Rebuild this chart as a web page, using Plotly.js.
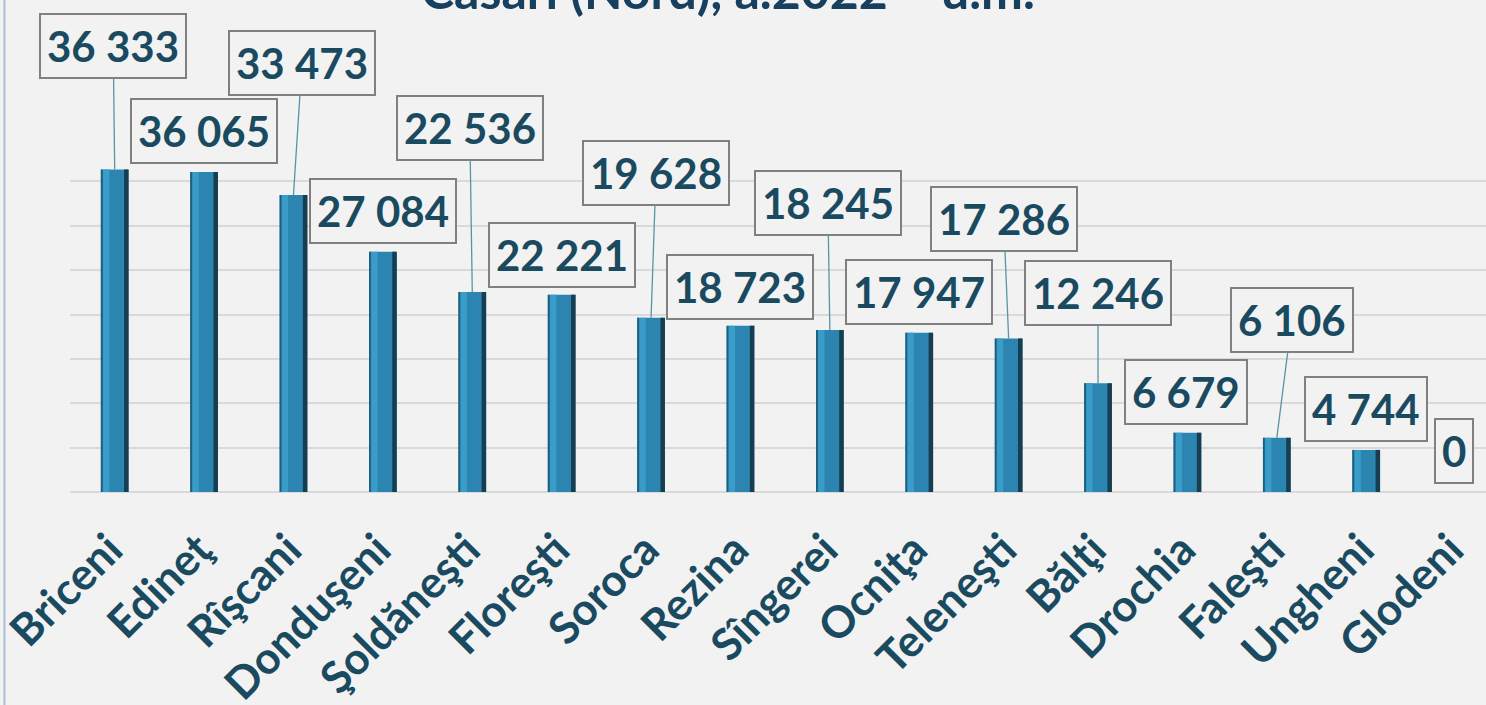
<!DOCTYPE html>
<html>
<head>
<meta charset="utf-8">
<script src="https://cdn.plot.ly/plotly-3.0.1.min.js"></script>
<style>
  html, body { margin: 0; padding: 0; background: #f2f2f2; }
  #chart { width: 1486px; height: 705px; }
</style>
</head>
<body>
<div id="chart"></div>
<script>
// ---- Data ----
const districts = ["Briceni", "Edineţ", "Rîşcani", "Donduşeni", "Şoldăneşti", "Floreşti", "Soroca", "Rezina",
                   "Sîngerei", "Ocniţa", "Teleneşti", "Bălţi", "Drochia", "Faleşti", "Ungheni", "Glodeni"];
const casari = [36333, 36065, 33473, 27084, 22536, 22221, 19628, 18723,
                18245, 17947, 17286, 12246, 6679, 6106, 4744, 0];
const chartTitle = "Casări (Nord), a.2022 – u.m.";

// ---- Label placement (pixel offsets of the label box from the bar top) ----
const labelDx = [-1.5, 0, 8.5, 0, -2.5, 0, 5, 0, -2, 0, -5, 0, -1.5, 15, 0, -1.5];
const labelDy = [-124, -41, -132, -41, -164, -40, -145, -39, -127, -41, -120, -90, -41, -118, -41, -41];
const hasLeader = [true, false, true, false, true, false, true, false, true, false, true, true, false, true, false, false];

const textColor = "#1a4a60";
const fontFam = "Lato, 'Open Sans', sans-serif";

function fmt(v) { return String(v).replace(/\B(?=(\d{3})+(?!\d))/g, " "); }

const barW = 0.31;
const traces = [
  { type: "bar", x: districts, y: casari, width: barW,
    marker: { color: "#2c85b0", line: { width: 0 } }, hoverinfo: "x+y" },
  { type: "bar", x: districts, y: casari, width: 0.02, offset: -0.155,
    marker: { color: "#1f5f7d", line: { width: 0 } }, hoverinfo: "skip" },
  { type: "bar", x: districts, y: casari, width: 0.07, offset: -0.13,
    marker: { color: "#3a9cc9", line: { width: 0 } }, hoverinfo: "skip" },
  { type: "bar", x: districts, y: casari, width: 0.05, offset: 0.105,
    marker: { color: "#163d50", line: { width: 0 } }, hoverinfo: "skip" }
];

const annotations = districts.map((d, i) => ({
  x: d, y: casari[i], xref: "x", yref: "y",
  text: fmt(casari[i]),
  showarrow: true, arrowhead: 0, arrowwidth: 1.3, standoff: 0,
  arrowcolor: hasLeader[i] ? "#5a93a6" : "rgba(0,0,0,0)",
  ax: labelDx[i], ay: labelDy[i],
  font: { family: fontFam, size: 42, color: textColor, weight: 700 },
  bgcolor: "#f2f2f2", bordercolor: "#808080", borderwidth: 2, borderpad: 6
}));

// Chart title (only its lower part is visible at the top edge)
annotations.push({
  xref: "paper", yref: "paper", x: 0.4647, y: 1.324, xanchor: "center", yanchor: "bottom",
  showarrow: false, text: chartTitle,
  font: { family: fontFam, size: 50, color: "#17405f", weight: 700 }
});

const layout = {
  width: 1486, height: 705,
  paper_bgcolor: "#f2f2f2", plot_bgcolor: "#f2f2f2",
  margin: { l: 70, r: 0, t: 137, b: 213 },
  showlegend: false,
  barmode: "overlay",
  xaxis: { type: "category", range: [-0.5, 15.34], tickangle: -45, showgrid: false,
           ticks: "", showline: false, zeroline: false,
           ticklabelstandoff: 22, ticklabelshift: -5,
           tickfont: { family: fontFam, size: 44, color: textColor, weight: 700 } },
  yaxis: { range: [0, 40000], dtick: 5000, showticklabels: false, showgrid: true,
           gridcolor: "#d9d9d9", gridwidth: 2, zeroline: true, zerolinecolor: "#d9d9d9", zerolinewidth: 2,
           fixedrange: true },
  shapes: [
    { type: "line", xref: "paper", yref: "paper", x0: -0.0463, x1: -0.0463, y0: -0.7, y1: 1.5,
      line: { color: "#a9bfd8", width: 2 } }
  ],
  annotations: annotations
};

Plotly.newPlot("chart", traces, layout, { displayModeBar: false, staticPlot: true });
</script>
</body>
</html>
